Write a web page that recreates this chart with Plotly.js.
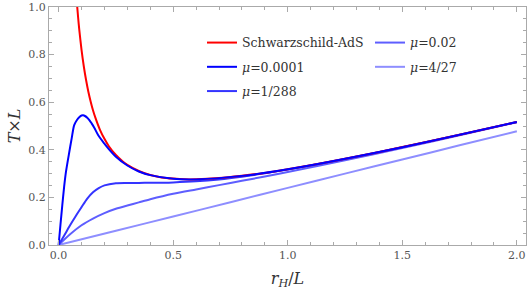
<!DOCTYPE html>
<html>
<head>
<meta charset="utf-8">
<script src="https://cdn.plot.ly/plotly-3.0.1.min.js"></script>
<style>html,body{margin:0;padding:0;background:#fff}#chart{width:532px;height:294px}</style>
</head>
<body>
<div id="chart"></div>
<script>
// Series names
const names = ['Schwarzschild-AdS', '<i>μ</i>=0.0001', '<i>μ</i>=1/288', '<i>μ</i>=0.02', '<i>μ</i>=4/27'];

// Schwarzschild-AdS
const rSAdS = [0.08,0.085,0.09,0.1,0.11,0.12,0.13,0.14,0.15,0.16,0.18,0.2,0.22,0.25,0.28,0.3,0.35,0.4,0.45,0.5,0.55,0.6,0.7,0.8,0.9,1.0,1.2,1.4,1.6,1.8,2.0];
const tSAdS = [1.014,0.957,0.906,0.820,0.750,0.692,0.643,0.602,0.566,0.536,0.485,0.446,0.414,0.378,0.351,0.337,0.311,0.294,0.284,0.279,0.276,0.276,0.281,0.291,0.303,0.318,0.353,0.391,0.432,0.474,0.517];

// mu = 0.0001
const rMu1 = [0,0.008,0.016,0.024,0.032,0.045,0.057,0.068,0.08,0.09,0.1,0.107,0.115,0.125,0.135,0.144,0.155,0.173,0.199,0.22,0.25,0.3,0.35,0.4,0.5,0.6,0.8,1.0,1.5,2.0];
const tMu1 = [0,0.085,0.167,0.244,0.307,0.382,0.448,0.504,0.525,0.537,0.544,0.545,0.542,0.535,0.524,0.511,0.494,0.461,0.427,0.402,0.371,0.334,0.309,0.2935,0.278,0.2757,0.2904,0.3182,0.411,0.517];

// mu = 1/288
const rMu2 = [0,0.025,0.05,0.075,0.1,0.125,0.15,0.175,0.2,0.25,0.3,0.35,0.4,0.45,0.5,0.6,0.7,0.8,0.9,1.0,1.25,1.5,1.75,2.0];
const tMu2 = [0,0.041,0.083,0.122,0.159,0.195,0.2215,0.239,0.2505,0.2595,0.2605,0.261,0.2612,0.2618,0.263,0.2675,0.2755,0.287,0.301,0.3167,0.361,0.4108,0.4635,0.5172];

// mu = 0.02
const rMu3 = [0,0.05,0.1,0.15,0.2,0.25,0.3,0.35,0.4,0.5,0.6,0.7,0.8,0.9,1.0,1.25,1.5,1.75,2.0];
const tMu3 = [0,0.045,0.083,0.111,0.134,0.152,0.166,0.179,0.192,0.215,0.2335,0.2515,0.2696,0.288,0.3068,0.3555,0.4074,0.4608,0.5156];

// mu = 4/27
const rMu4 = [0,0.25,0.5,0.75,1.0,1.25,1.5,1.75,2.0];
const tMu4 = [0,0.060,0.1195,0.180,0.240,0.300,0.359,0.419,0.478];

const colors = ['#ff0000','#0000ff','#3434ff','#5e5eff','#8e8eff'];
const xs = [rSAdS, rMu1, rMu2, rMu3, rMu4];
const ys = [tSAdS, tMu1, tMu2, tMu3, tMu4];
const legendOf = ['legend','legend','legend','legend2','legend2'];

const traces = xs.map((x, i) => ({
  x: x, y: ys[i], name: names[i], type: 'scatter', mode: 'lines',
  line: {color: colors[i], width: 2, shape: 'spline', smoothing: 0.8},
  legend: legendOf[i], legendgroup: 'g' + i, legendrank: i + 1
}));
// draw order: lighter first, red then blue on top
const ordered = [traces[4], traces[3], traces[2], traces[0], traces[1]];

const serif = '"DejaVu Serif", "Liberation Serif", serif';
const tickFont = {family: serif, size: 11, color: '#555'};
const frame = '#aaaaaa';
const legendFont = {family: serif, size: 12.5, color: '#333'};
const layout = {
  width: 532, height: 294,
  margin: {l: 49, r: 6, t: 7, b: 49},
  paper_bgcolor: '#fff', plot_bgcolor: '#fff',
  showlegend: true,
  xaxis: {
    range: [-0.042, 2.04], showgrid: false, zeroline: false,
    showline: true, linecolor: frame, linewidth: 1, mirror: 'allticks',
    ticks: 'inside', ticklen: 5, tickcolor: frame, dtick: 0.5, tick0: 0,
    tickformat: '.1f', tickfont: tickFont,
    minor: {ticks: 'inside', ticklen: 3, tickcolor: frame, dtick: 0.1, tick0: 0, showgrid: false},
    title: {text: '<i>r</i><sub><i>H</i></sub>/<i>L</i>', font: {family: serif, size: 16, color: '#333'}, standoff: 11}
  },
  yaxis: {
    range: [0, 1.0], showgrid: false, zeroline: false,
    showline: true, linecolor: frame, linewidth: 1, mirror: 'allticks',
    ticks: 'inside', ticklen: 5, tickcolor: frame, dtick: 0.2, tick0: 0,
    tickformat: '.1f', tickfont: tickFont,
    minor: {ticks: 'inside', ticklen: 3, tickcolor: frame, dtick: 0.05, tick0: 0, showgrid: false},
    title: {text: '<i>T</i>×<i>L</i>', font: {family: serif, size: 16, color: '#333'}, standoff: 3}
  },
  legend: {
    x: 0.3208, y: 0.912, xanchor: 'left', yanchor: 'top',
    bgcolor: 'rgba(0,0,0,0)', borderwidth: 0, tracegroupgap: 5,
    font: legendFont, traceorder: 'grouped'
  },
  legend2: {
    x: 0.673, y: 0.912, xanchor: 'left', yanchor: 'top',
    bgcolor: 'rgba(0,0,0,0)', borderwidth: 0, tracegroupgap: 5,
    font: legendFont, traceorder: 'grouped'
  }
};

Plotly.newPlot('chart', ordered, layout, {displayModeBar: false, staticPlot: true});
</script>
</body>
</html>
